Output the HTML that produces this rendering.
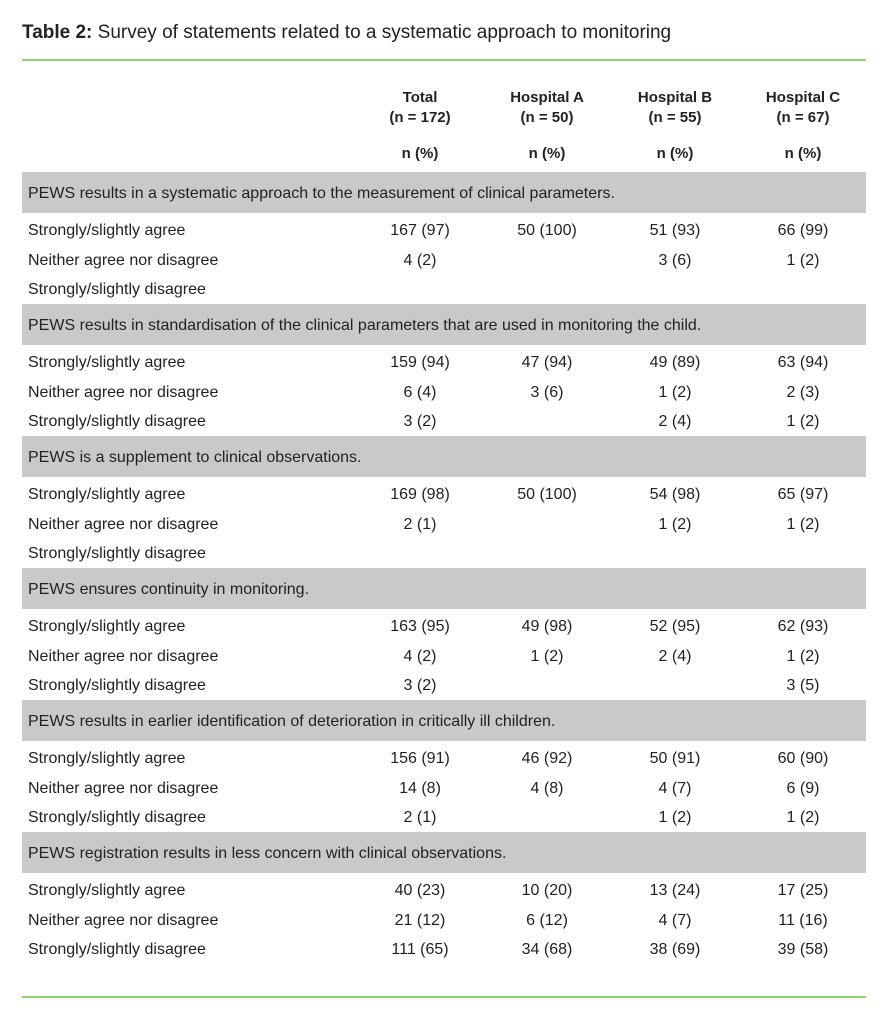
<!DOCTYPE html>
<html><head><meta charset="utf-8"><style>
body{margin:0;width:892px;height:1024px;background:#fff;font-family:"Liberation Sans",sans-serif;color:#222;position:relative;overflow:hidden}
.a{position:absolute;white-space:nowrap;line-height:18px}
.c{transform:translateX(-50%);text-align:center}
.g{position:absolute;left:22px;width:844px;height:41px;background:#c8c9cb}
.l{position:absolute;left:22px;width:844px;height:2px;background:#8fd16a}
.h{font-weight:bold;font-size:15px;line-height:20px}
.t{font-size:16px}
</style></head><body>
<div class="a" style="left:22px;top:23px;font-size:19px;line-height:20px"><b>Table 2:</b> Survey of statements related to a systematic approach to monitoring</div>
<div class="l" style="top:59px"></div>
<div class="l" style="top:996px"></div>
<div class="a c h" style="left:420px;top:88px">Total<br>(n = 172)</div>
<div class="a c h" style="left:547px;top:88px">Hospital A<br>(n = 50)</div>
<div class="a c h" style="left:675px;top:88px">Hospital B<br>(n = 55)</div>
<div class="a c h" style="left:803px;top:88px">Hospital C<br>(n = 67)</div>
<div class="a c h" style="left:420px;top:144px">n (%)</div>
<div class="a c h" style="left:547px;top:144px">n (%)</div>
<div class="a c h" style="left:675px;top:144px">n (%)</div>
<div class="a c h" style="left:803px;top:144px">n (%)</div>
<div id="r"></div>
<script>
var d=[
["PEWS results in a systematic approach to the measurement of clinical parameters.",[["167 (97)","50 (100)","51 (93)","66 (99)"],["4 (2)","","3 (6)","1 (2)"],["","","",""]]],
["PEWS results in standardisation of the clinical parameters that are used in monitoring the child.",[["159 (94)","47 (94)","49 (89)","63 (94)"],["6 (4)","3 (6)","1 (2)","2 (3)"],["3 (2)","","2 (4)","1 (2)"]]],
["PEWS is a supplement to clinical observations.",[["169 (98)","50 (100)","54 (98)","65 (97)"],["2 (1)","","1 (2)","1 (2)"],["","","",""]]],
["PEWS ensures continuity in monitoring.",[["163 (95)","49 (98)","52 (95)","62 (93)"],["4 (2)","1 (2)","2 (4)","1 (2)"],["3 (2)","","","3 (5)"]]],
["PEWS results in earlier identification of deterioration in critically ill children.",[["156 (91)","46 (92)","50 (91)","60 (90)"],["14 (8)","4 (8)","4 (7)","6 (9)"],["2 (1)","","1 (2)","1 (2)"]]],
["PEWS registration results in less concern with clinical observations.",[["40 (23)","10 (20)","13 (24)","17 (25)"],["21 (12)","6 (12)","4 (7)","11 (16)"],["111 (65)","34 (68)","38 (69)","39 (58)"]]]];
var lab=["Strongly/slightly agree","Neither agree nor disagree","Strongly/slightly disagree"];
var xs=[420,547,675,803],h="";
d.forEach(function(s,i){var y=172+132*i;
h+='<div class="g" style="top:'+y+'px"></div><div class="a t" style="left:28px;top:'+(y+13)+'px">'+s[0]+'</div>';
for(var j=0;j<3;j++){var ry=y+50+j*29.7;
h+='<div class="a t" style="left:28px;top:'+ry+'px">'+lab[j]+'</div>';
for(var k=0;k<4;k++)if(s[1][j][k])h+='<div class="a c t" style="left:'+xs[k]+'px;top:'+ry+'px">'+s[1][j][k]+'</div>';}
});
document.getElementById("r").innerHTML=h;
</script>
</body></html>
